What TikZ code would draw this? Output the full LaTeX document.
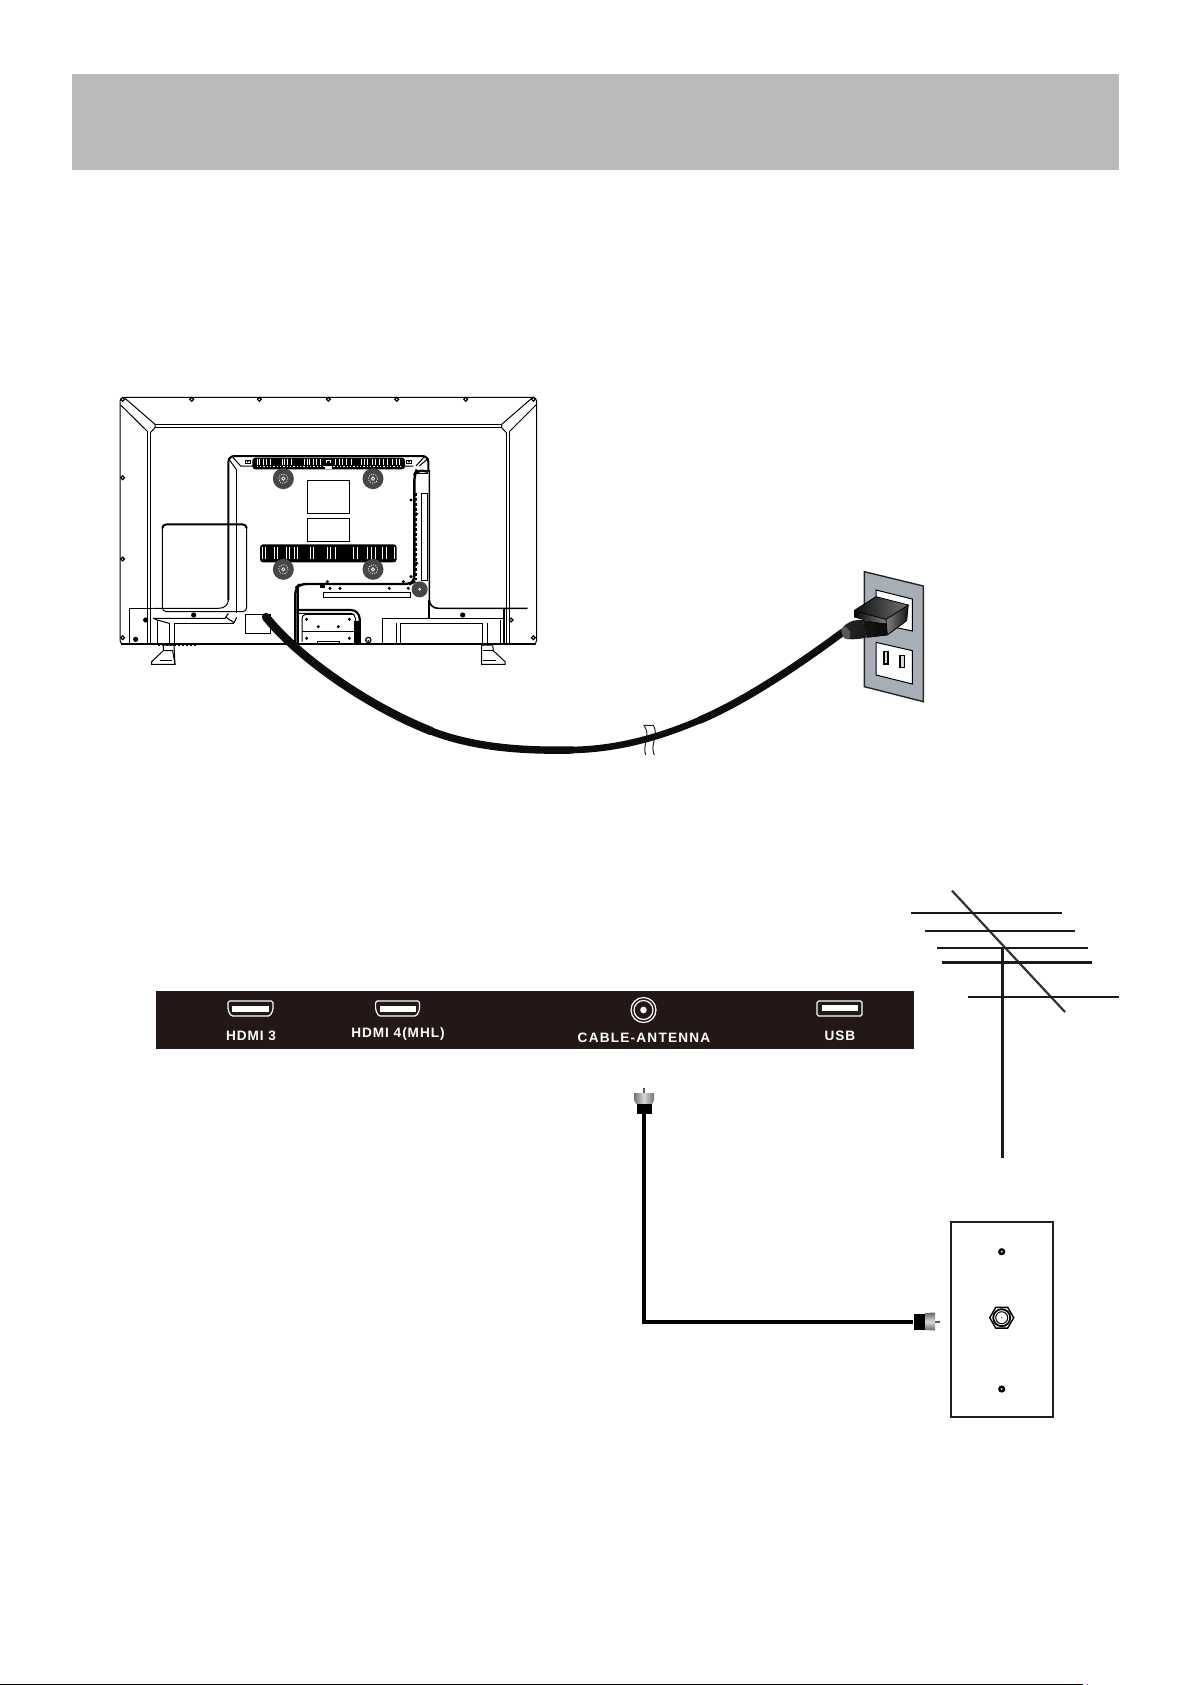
\documentclass[tikz,border=0pt]{standalone}
\usepackage{fontspec}
\setmainfont{Liberation Sans}
\newfontfamily\lblfont[LetterSpace=7,BoldFont={Liberation Sans Bold}]{Liberation Sans}
\newfontfamily\lblwide[LetterSpace=9,BoldFont={Liberation Sans Bold}]{Liberation Sans}
\usetikzlibrary{shapes.geometric}
\definecolor{band}{HTML}{231815}
\definecolor{banner}{HTML}{BABABC}
\definecolor{plate}{HTML}{A8AEB6}
\definecolor{inkline}{HTML}{1A1A1A}
\tikzset{
 thinl/.style={line width=.5pt,draw=black},
 medl/.style={line width=.8pt,draw=black},
 thickl/.style={line width=1.5pt,draw=black},
 screw/.style={circle,draw=black,fill=white,line width=.6pt,inner sep=0pt,minimum size=1.9pt},
 disc/.style={circle,fill=black!72,inner sep=0pt,minimum size=10.5pt},
 portlabel/.style={text=white,inner sep=0pt,font=\fontsize{6.8}{8}\lblfont\bfseries},
 widelabel/.style={text=white,inner sep=0pt,font=\fontsize{6.8}{8}\lblwide\bfseries},
 ant/.style={line width=1pt,draw=inkline},
 coax/.style={line width=1.8pt,draw=black},
 slit/.style={fill=white},
 powercord/.style={draw=black!95,line cap=round},
}
\begin{document}
\begin{tikzpicture}[x=.5pt,y=-.5pt]
\useasboundingbox (0,0) rectangle (1192,1685);
\fill[white] (0,0) rectangle (1192,1685);
% banner
\fill[banner] (72,74) rectangle (1119,170);
% bottom rule
\fill[black] (0,1683.5) rectangle (1083,1685);
\fill[magenta!70!blue] (1087,1684) rectangle (1088,1685);

% ---------------- TV back
\begin{scope}[shift={(100,380)},x=.16667pt,y=-.16667pt]
\draw[thinl,rounded corners=2pt] (60,52) rectangle (1310,793);
\draw[thickl,line width=1pt] (62,791) -- (1308,791);
% frame
\draw[thinl] (165,133) -- (1205,133);
\draw[thinl] (165,143) -- (1205,143);
\draw[thinl] (75,55) -- (165,133) -- (165,143) -- (152,157);
\draw[thinl] (62,75) -- (143,155);
\draw[thinl] (1295,55) -- (1205,133) -- (1205,143) -- (1218,157);
\draw[thinl] (1308,75) -- (1228,155);
\draw[thinl] (143,155) -- (143,790);
\draw[thinl] (152,157) -- (152,790);
\draw[thinl] (1218,157) -- (1218,790);
\draw[thinl] (1228,155) -- (1228,790);
% top/side screws
\foreach \p in {(275,58),(478,58),(685,58),(890,58),(1097,58),(68,58),(1300,58),(68,293),(68,537),(68,773),(1233,720),(1300,773)}
  \node[screw] at \p {};
\foreach \p in {(137,720),(281,705),(1088,705),(107,778)}
  \node[circle,fill=black,inner sep=0pt,minimum size=2.6pt] at \p {};
% left cover box
\draw[thinl,rounded corners=2pt] (187,440) -- (187,695) -- (440,695) -- (440,440);
\draw[medl,line width=1pt,rounded corners=2pt] (187,445) -- (187,433) -- (440,433) -- (440,445);
% centre panel
\draw[thickl,line width=1pt,rounded corners=3pt] (385,660) -- (385,228) -- (985,228) -- (985,275);
\draw[thinl] (385,660) .. controls (385,675) and (372,685) .. (355,685) -- (160,685);
\draw[thinl] (410,270) -- (410,700);
\draw[thinl] (385,235) -- (410,270);
\draw[thinl] (395,228) -- (422,258) -- (940,258);
\draw[thinl] (985,235) -- (958,258);
\draw[thinl] (975,228) -- (948,258);
\draw[thinl] (160,715) -- (375,715) -- (385,700) ;
\draw[thinl] (378,712) -- (402,728) -- (410,712);
\draw[thinl] (222,730) -- (402,730);
\draw[thinl] (88,790) -- (88,685) -- (160,685);
\draw[thinl] (172,720) -- (172,790);
\draw[thinl] (208,730) -- (208,790);
\draw[thinl] (222,730) -- (222,790);
\draw[thinl] (160,715) -- (172,720) -- (208,730);
\draw[medl] (988,270) -- (988,660) .. controls (988,675) and (1000,685) .. (1015,685) -- (1283,685);
\draw[medl,line width=.9pt] (987,660) -- (987,715);
\draw[thinl] (848,790) -- (848,715) -- (1212,715);
\draw[medl] (900,730) -- (1147,730);
\draw[thinl] (888,730) -- (888,790);
\draw[thinl] (900,730) -- (900,790);
\draw[thinl] (1147,730) -- (1147,790);
\draw[thinl] (1163,730) -- (1163,790);
\draw[thinl] (1200,720) -- (1200,790);
\draw[medl] (1212,685) -- (1212,790);
% inner rects
\draw[thinl] (622,301) rectangle (749,401);
\draw[thinl] (622,415) rectangle (749,485);
% top vent
\fill[black,rounded corners=1.5pt] (457,233) rectangle (915,268);
\foreach \X in {470,478,488,498,510,545,553,562,572,612,620,628,638,648,660,706,716,726,738,752,782,792,802,815,825,838,850,862,875,888,898}
  \fill[slit] (\X,238) rectangle ++(2.2,16);
\foreach \X in {470,480,...,670,700,710,...,905}
  \fill[slit] (\X,259) rectangle ++(4,2.5);
\fill[slit] (675,258) rectangle (695,268);
\fill[white] (677,240) rectangle (693,250);
\fill[black] (680,242) rectangle (690,248);
\foreach \p in {(443,245),(927,245)} { \draw[thinl,fill=white] \p ++(-7,-4) rectangle ++(14,8); \fill[black] \p circle[radius=3]; }
% mid vent
\fill[black,rounded corners=1.5pt] (480,493) rectangle (890,547);
\foreach \X in {486,494,522,532,558,568,582,592,630,640,680,690,705,760,770,802,812,826,846,858,882}
  \fill[slit] (\X,500) rectangle ++(3,38);
% mount discs
\foreach \p in {(550,296),(819,296),(550,568),(819,568)} {
  \node[disc] at \p {};
  \draw[white,line width=.4pt,dash pattern=on .5pt off .7pt] \p circle[radius=14];
  \draw[white,line width=.4pt] \p circle[radius=5];
}
\node[disc,minimum size=8pt] at (959,628) {};
\draw[white,line width=.3pt] (959,628) circle[radius=3];
% right strip
\draw[thickl,line width=1.2pt,rounded corners=3pt] (985,275) -- (950,270) -- (943,285) -- (943,605) -- (930,612) -- (600,612) -- (586,625) -- (586,790);
\draw[thickl,line width=.8pt] (594,625) -- (594,790);
\draw[thinl] (950,280) -- (985,280);
\draw[thinl,fill=white] (964,340) rectangle (983,600);
\draw[medl,dash pattern=on 1.5pt off 1pt] (948,340) -- (948,600);
\foreach \p in {(933,360),(950,402),(950,550),(933,590),(682,605),(910,605),(690,625),(720,625),(868,625),(925,625)}
  \node[circle,fill=black,inner sep=0pt,minimum size=1.7pt] at \p {};
\fill[black] (660,612) rectangle (675,625);
\draw[thinl] (670,637) rectangle (932,653);
% lower opening
\draw[thickl,line width=1.1pt] (590,690) -- (752,690) .. controls (768,690) and (779,702) .. (779,717) -- (779,790);
\draw[thinl] (590,700) -- (750,700) .. controls (760,700) and (767,708) .. (767,717) -- (767,790);
\fill[black] (763,722) rectangle (779,790);
\draw[thinl,rounded corners=2pt] (606,785) -- (606,703) -- (763,703);
\draw[medl] (606,755) -- (763,755);
\draw[thinl] (652,790) -- (652,783) -- (718,783) -- (718,790);
\foreach \p in {(620,718),(748,718),(655,740),(715,740),(620,775),(748,775)}
  \draw[line width=.5pt,fill=white] \p circle[radius=3];
\draw[line width=.6pt,fill=white] (563,780) circle[radius=8];
\fill[black] (563,782) circle[radius=3];
\draw[line width=.6pt,fill=white] (805,780) circle[radius=8];
\fill[black] (805,782) circle[radius=3];
\draw[thinl,line width=.8pt] (545,790) -- (822,790);
% power socket
\draw[thinl] (436,703) rectangle (512,760);
\draw[medl] (436,760) -- (512,760);
\draw[medl] (512,703) -- (512,760);
% stands
\draw[thinl,fill=white] (190,795) -- (222,795) -- (225,853) -- (155,853) -- (155,845) -- (190,812) -- cycle;
\draw[thinl] (190,812) -- (218,812) -- (225,853);
\draw[thinl] (180,840) -- (215,840);
\draw[thinl,fill=white] (1145,795) -- (1178,795) -- (1180,812) -- (1215,845) -- (1215,853) -- (1145,853) -- cycle;
\draw[thinl] (1148,812) -- (1180,812);
\draw[thinl] (1150,840) -- (1188,840);
\draw[line width=.6pt,dash pattern=on 1pt off 1pt] (175,796) -- (290,796);
\end{scope}

% ---------------- squiggle
\begin{scope}[shift={(600,700)},x=.16667pt,y=-.16667pt]
\draw[line width=.5pt,draw=black!85] (137,165) .. controls (125,135) and (155,110) .. (132,76) -- (160,76) .. controls (178,105) and (148,135) .. (163,165);
\end{scope}

% ---------------- wall plate
\begin{scope}[shift={(800,560)},x=.16667pt,y=-.16667pt]
\draw[fill=plate,line width=.7pt,draw=black!85] (193,35) -- (370,78) -- (370,425) -- (193,380) -- cycle;
\draw[fill=white,line width=.5pt] (228,90) -- (337,117) -- (337,213) -- (228,190) -- cycle;
\draw[fill=white,line width=.5pt] (228,247) -- (337,272) -- (337,372) -- (228,345) -- cycle;
\draw[fill=plate!50,line width=.8pt] (252,275) rectangle (264,312);
\draw[fill=plate!50,line width=.8pt] (300,287) rectangle (313,323);
\end{scope}

% ---------------- power cable
\coordinate (tvsocket) at (266,617);
\coordinate (cordA) at (431,731);
\coordinate (cordB) at (572,750);
\coordinate (cordC) at (700,720);
\coordinate (plugend) at (843,632);
\draw[powercord,line width=4.2pt] (tvsocket) .. controls (296,655) and (365,705) .. (cordA);
\draw[powercord,line width=3.7pt] (cordA) .. controls (475,748) and (525,751) .. (cordB);
\draw[powercord,line width=3.3pt] (cordB) .. controls (619,749) and (660,737) .. (cordC);
\draw[powercord,line width=3.7pt] (cordC) .. controls (745,701) and (800,664) .. (plugend);

% ---------------- plug
\begin{scope}[shift={(800,560)},x=.16667pt,y=-.16667pt]
\shade[left color=black!95,right color=black!55] (162,152) -- (228,110) -- (325,135) -- (258,178) -- cycle;
\shade[left color=black!50,right color=black!92] (258,178) -- (325,135) -- (320,182) -- (262,225) -- cycle;
\shade[left color=black,middle color=black!85,right color=black!50] (162,152) -- (258,178) -- (258,190) -- (190,180) -- (162,172) -- cycle;
\shade[left color=black!92,middle color=black!30,right color=black!95] (188,180) -- (258,190) -- (262,225) -- (200,232) -- cycle;
\shade[left color=black!85,middle color=black!35,right color=black!90] (130,200) .. controls (150,180) and (175,178) .. (188,180) -- (200,232) .. controls (180,238) and (150,240) .. (135,235) .. controls (122,225) and (122,205) .. (130,200) -- cycle;
\fill[black!65] (132,198) .. controls (150,205) and (158,225) .. (145,238) .. controls (135,240) and (122,225) .. (125,208) -- cycle;
\draw[black,line width=.4pt] (162,152) -- (228,110) -- (325,135) -- (320,182) -- (262,225) -- (200,232);
\draw[black,line width=.4pt] (162,152) -- (258,178) -- (325,135);
\draw[black,line width=.4pt] (258,178) -- (262,225);
\end{scope}

% ---------------- port band
\fill[band] (156,991) rectangle (914,1049);
\foreach \xa/\xb in {228/273,375.6/419.5} {
 \draw[white,line width=.6pt,rounded corners=.8pt] (\xa,1001) -- (\xb,1001) -- (\xb,1010) -- (\xb-3,1016) -- (\xa+3,1016) -- (\xa,1010) -- cycle;
 \fill[white] (\xa+4,1005.5) rectangle (\xb-4,1011.5);
}
\draw[white,line width=.6pt] (643.5,1010) circle[radius=12.5];
\draw[white,line width=.6pt] (643.5,1010) circle[radius=9.5];
\fill[white] (643.5,1010) circle[radius=3.3];
\draw[white,line width=.6pt,rounded corners=.8pt] (817,1001) rectangle (862,1016);
\fill[white] (822,1005) rectangle (858,1011);
\node[portlabel] (hdmi3) at (251,1036) {HDMI 3};
\node[portlabel] (hdmi4) at (398,1034) {HDMI 4(MHL)};
\node[widelabel] (cable) at (644,1038) {CABLE-ANTENNA};
\node[portlabel] (usb) at (840,1036) {USB};

% ---------------- antenna
\coordinate (mtop) at (1002.3,948);
\coordinate (mbot) at (1002.3,1157.7);
\draw[line width=1.1pt,draw=black!80] (952,890.7) -- (1065,1012);
\draw[ant] (911,913) -- (1061.7,913);
\draw[ant] (925,931) -- (1075,931);
\draw[ant] (937,948) -- (1088,948);
\draw[ant,line width=1.5pt] (942,962.3) -- (1092,962.3);
\draw[ant] (968,997) -- (1119,997);
\draw[ant,line width=1.6pt] (mtop) -- (mbot);

% ---------------- wall outlet
\draw[line width=1pt,draw=black!88] (951,1222.3) rectangle (1053,1416.7);
\foreach \p in {(1001.7,1251.7),(1001.7,1389)} {
  \fill[black] \p circle[radius=3.6];
  \fill[white] \p circle[radius=1];
}
\node[regular polygon,regular polygon sides=6,shape border rotate=0,draw=black,line width=.7pt,minimum size=12pt,inner sep=0pt,fill=white] (wallnut) at (1001.7,1317.7) {};
\draw[line width=.9pt] (wallnut.center) circle[radius=8.5];
\draw[line width=.5pt] (wallnut.center) circle[radius=6];
\fill[black!70] (wallnut.center) circle[radius=.6];

% ---------------- coax cable
\coordinate (fconnA) at (643.7,1114);
\coordinate (fconnB) at (913,1321.7);
\draw[coax,line join=miter] (fconnA) -- (fconnA |- fconnB) -- (fconnB);
% vertical connector
\draw[line width=.9pt,draw=black!65] (643.7,1088) -- (643.7,1094);
\shade[left color=black!55,right color=black!55,middle color=white!85!black] (634,1093) -- (654,1093) -- (654,1100) -- (652,1104) -- (636,1104) -- (634,1100) -- cycle;
\fill[black] (636.5,1104) rectangle (651.5,1114);
% horizontal connector
\draw[line width=.9pt,draw=black!65] (934,1321.7) -- (940,1321.7);
\fill[black] (914,1314) rectangle (925,1330);
\shade[top color=black!60,bottom color=black!60,middle color=white!85!black] (925,1313) -- (935,1312.5) -- (935,1330.5) -- (925,1330) -- cycle;
\end{tikzpicture}
\end{document}
